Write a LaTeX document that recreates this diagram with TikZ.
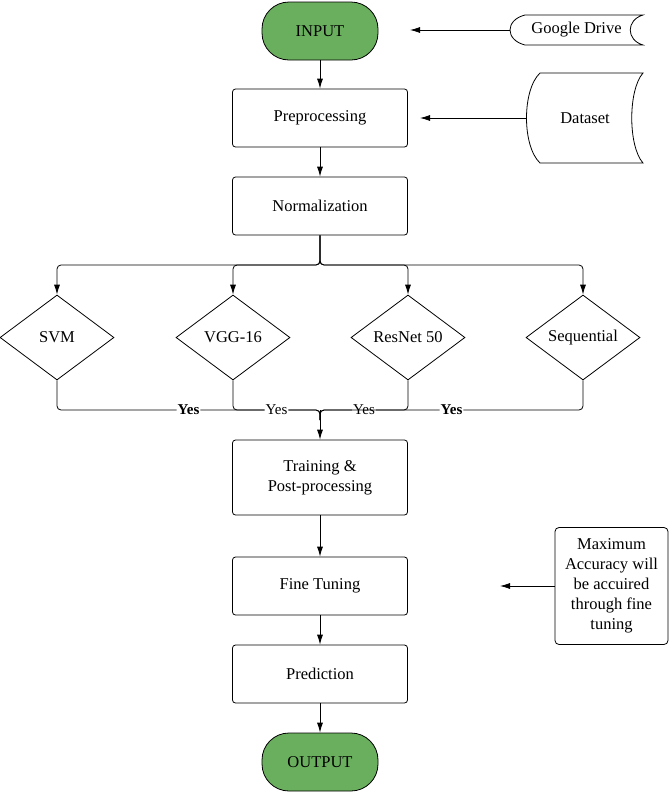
\documentclass[tikz,border=0pt]{standalone}
\usepackage{fontspec}
\setmainfont{Liberation Serif}
\usetikzlibrary{arrows.meta,shapes.geometric}
\definecolor{termgreen}{RGB}{106,175,94}
\begin{document}
\begin{tikzpicture}[x=1pt,y=-1pt,
    every node/.style={font=\fontsize{16.5}{20}\selectfont},
    terminal/.style ={draw, line width=0.8pt, fill=termgreen, rounded corners=27pt,
        minimum width=116pt, minimum height=58pt},
    process/.style ={draw, line width=0.8pt, rounded corners=3pt, align=center,
        minimum width=175pt, minimum height=58pt},
    decision/.style ={draw, line width=0.8pt, diamond, aspect=1.34, inner sep=1pt,
        minimum width=114pt, minimum height=85pt},
    storage/.style ={inner sep=0pt},
    note/.style ={draw, line width=0.8pt, rounded corners=4pt, align=center,
        minimum width=113pt, minimum height=117pt},
    yes/.style ={fill=white, inner sep=1pt, font=\fontsize{15}{17}\selectfont},
    flow/.style ={line width=0.8pt, -{Latex[length=10pt,width=6pt]}},
    link/.style ={line width=0.8pt, rounded corners=4pt}]
   \useasboundingbox (0,0) rectangle (672,793);
   % main column
   \node[terminal] (input) at (320,31) {INPUT};
   \node[process] (prep) at (320,118) {Preprocessing};
   \node[process] (norm) at (320,206) {Normalization};
   \node[decision] (svm) at (57,337.5) {SVM};
   \node[decision] (vgg) at (233,337.5) {VGG-16};
   \node[decision] (resnet) at (408,337.5) {ResNet 50};
   \node[decision] (seq) at (583,337.5) {Sequential};
   \node[process, minimum height=75pt] (train) at (320,477.5) {Training \&\\Post-processing};
   \node[process] (fine) at (320,586) {Fine Tuning};
   \node[process] (pred) at (320,674) {Prediction};
   \node[terminal] (output) at (320,762) {OUTPUT};
   % side inputs
   \node[storage, minimum width=133pt, minimum height=30pt] (gdrive) at (576.5,30) {Google Drive};
   \draw[line width=0.8pt] (525,15) -- (643,15) .. controls (626,20) and (626,40) .. (643,45)
       -- (525,45) .. controls (505,40) and (505,20) .. (525,15);
   \node[storage, minimum width=116pt, minimum height=90pt] (data) at (585,118) {Dataset};
   \draw[line width=0.8pt] (540,73) -- (643,73) .. controls (628,90) and (628,146) .. (643,163)
       -- (540,163) .. controls (522,146) and (522,90) .. (540,73);
   \node[note] (acc) at (611.5,586) {Maximum\\Accuracy will\\be accuired\\through fine\\tuning};
   \coordinate (gdtip) at (410,30);
   \coordinate (datatip) at (420,118);
   \coordinate (acctip) at (500,586);
   \coordinate (split) at (320,265);
   \coordinate (join) at (320,410);
   \coordinate (joinlow) at (320,420);
   % connectors
   \draw[flow] (input) -- (prep);
   \draw[flow] (prep) -- (norm);
   \draw[flow] (gdrive.west) -- (gdtip);
   \draw[flow] (data.west) -- (datatip);
   \draw[flow] (acc.west) -- (acctip);
   \draw[flow, link] (norm) -- (split) -| (svm);
   \draw[flow, link] (norm) -- (split) -| (vgg);
   \draw[flow, link] (norm) -- (split) -| (resnet);
   \draw[flow, link] (norm) -- (split) -| (seq);
   \draw[link] (svm) |- node[yes, pos=0.75] {\bfseries Yes} (join) -- (joinlow);
   \draw[link] (vgg) |- node[yes, pos=0.75] {Yes} (join) -- (joinlow);
   \draw[link] (resnet) |- node[yes, pos=0.75] {Yes} (join) -- (joinlow);
   \draw[link] (seq) |- node[yes, pos=0.75] {\bfseries Yes} (join) -- (joinlow);
   \draw[flow] (join) -- (train);
   \draw[flow] (train) -- (fine);
   \draw[flow] (fine) -- (pred);
   \draw[flow] (pred) -- (output);
\end{tikzpicture}
\end{document}
